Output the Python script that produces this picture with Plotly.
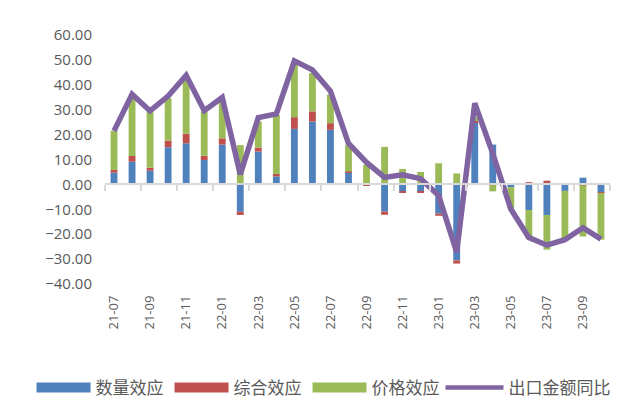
import plotly.graph_objects as go

months = ["21-07", "21-08", "21-09", "21-10", "21-11", "21-12",
          "22-01", "22-02", "22-03", "22-04", "22-05", "22-06",
          "22-07", "22-08", "22-09", "22-10", "22-11", "22-12",
          "23-01", "23-02", "23-03", "23-04", "23-05", "23-06",
          "23-07", "23-08", "23-09", "23-10"]

qty_effect = [4.7, 9.1, 5.5, 14.9, 16.5, 9.8, 16.0, -11.0, 13.2, 3.2,
              22.3, 25.2, 21.9, 4.7, -0.2, -10.9, -2.7, -3.0, -11.7, -30.5,
              24.7, 16.0, -1.1, -10.3, -12.3, -2.6, 2.7, -3.2]
comp_effect = [1.1, 2.3, 1.2, 2.7, 3.9, 1.7, 2.5, -1.3, 1.6, 1.0,
               4.7, 4.1, 2.7, 0.5, -0.4, -1.3, -0.4, -0.3, -0.9, -1.3,
               0.8, -0.3, 0.0, 0.9, 1.5, 0.0, -0.4, -0.2]
price_effect = [15.7, 23.9, 22.6, 17.0, 22.3, 17.8, 15.5, 15.8, 10.4, 23.7,
                21.7, 15.4, 11.4, 10.6, 7.9, 15.1, 6.2, 5.0, 8.5, 4.4,
                1.5, -2.5, -8.6, -11.4, -13.9, -19.1, -20.5, -18.8]
export_yoy = [21.5, 36.2, 29.5, 35.5, 43.8, 29.6, 34.9, 4.0, 26.8, 28.3,
              49.6, 46.0, 37.5, 16.5, 8.8, 2.8, 3.9, 2.3, -4.5, -27.2,
              32.6, 12.5, -9.9, -21.3, -24.4, -22.2, -17.4, -22.0]

tick_labels = months[::2]
y_ticks = [60, 50, 40, 30, 20, 10, 0, -10, -20, -30, -40]

names = ["数量效应", "综合效应", "价格效应", "出口金额同比"]
colors = ["#4F81BD", "#C0504D", "#9BBB59", "#8064A2"]

fig = go.Figure()
for vals, name, col in zip([qty_effect, comp_effect, price_effect], names[:3], colors[:3]):
    fig.add_bar(x=months, y=vals, name=name, marker=dict(color=col, line=dict(width=0)),
                showlegend=False)

fig.add_scatter(x=months, y=export_yoy, mode="lines", name=names[3],
                line=dict(color=colors[3], width=5.5), showlegend=False)

# legend entries
for i, (name, col) in enumerate(zip(names, colors)):
    fig.add_scatter(x=[months[0]], y=[None], mode="lines", name=name,
                    line=dict(color=col, width=10 if i < 3 else 4.5), showlegend=True,
                    legend="legend" if i < 3 else "legend2", hoverinfo="skip")

# helper axis carrying the zero line with boundary ticks
n = len(months)
fig.add_scatter(x=list(range(n)), y=[None] * n, xaxis="x2", mode="markers",
                showlegend=False, hoverinfo="skip")

legend_font = dict(family="Noto Sans CJK SC", size=17, color="#595959")

fig.update_layout(
    width=637, height=400,
    margin=dict(l=105, r=27, t=35, b=116),
    paper_bgcolor="white", plot_bgcolor="white",
    barmode="relative", bargap=0.62,
    font=dict(family="Open Sans", color="#595959"),
    xaxis=dict(type="category", categoryarray=months, tickvals=tick_labels,
               tickangle=-90, tickfont=dict(size=13, color="#595959"),
               ticks="", showline=False, showgrid=False, zeroline=False,
               ticklabelstandoff=8),
    xaxis2=dict(overlaying="x", anchor="free", position=0.4, side="bottom",
                range=[-0.5, n - 0.5],
                tickvals=[i - 0.5 for i in range(0, n + 1, 2)],
                showticklabels=False, ticks="outside", ticklen=6,
                tickcolor="#D9D9D9", tickwidth=1.5,
                showline=True, linecolor="#D9D9D9", linewidth=1.5,
                showgrid=False, zeroline=False),
    yaxis=dict(range=[-40, 60], tickvals=y_ticks, tickformat=".2f",
               tickfont=dict(size=15, color="#595959"),
               showgrid=False, zeroline=False, showline=False, ticks="",
               ticklabelstandoff=12),
    legend=dict(orientation="h", xref="container", yref="container",
                x=0.0495, xanchor="left", y=0.03, yanchor="middle",
                font=legend_font,
                itemwidth=54, entrywidth=69, entrywidthmode="pixels",
                tracegroupgap=0, bgcolor="rgba(0,0,0,0)"),
    legend2=dict(orientation="h", xref="container", yref="container",
                 x=0.6915, xanchor="left", y=0.03, yanchor="middle",
                 font=legend_font, itemwidth=58,
                 tracegroupgap=0, bgcolor="rgba(0,0,0,0)"),
)

fig.write_html("out.html")
